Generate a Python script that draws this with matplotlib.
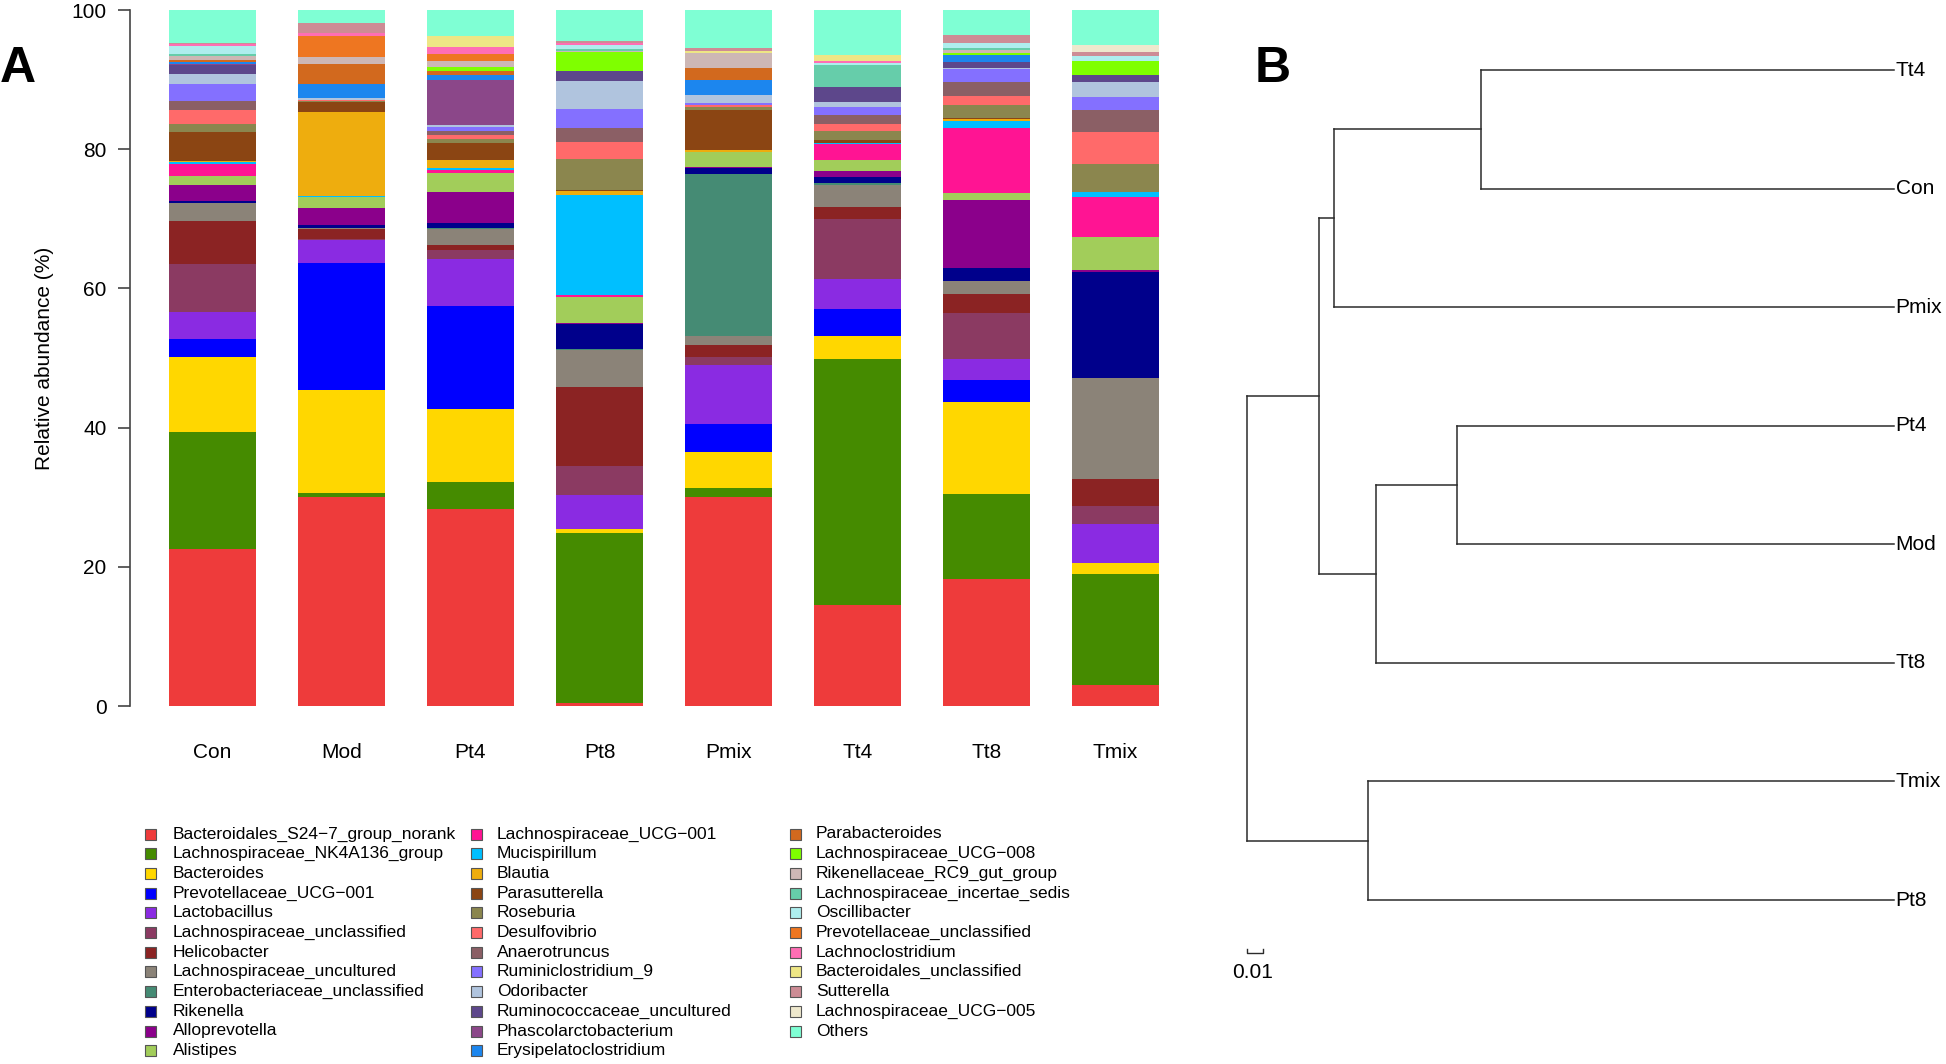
import matplotlib.pyplot as plt
from matplotlib.patches import Rectangle
import numpy as np

plt.rcParams['font.family'] = ['Liberation Sans', 'DejaVu Sans']

# ---- data -------------------------------------------------------------
groups = ['Con', 'Mod', 'Pt4', 'Pt8', 'Pmix', 'Tt4', 'Tt8', 'Tmix']

taxa = ['Bacteroidales_S24\u22127_group_norank', 'Lachnospiraceae_NK4A136_group',
        'Bacteroides', 'Prevotellaceae_UCG\u2212001', 'Lactobacillus',
        'Lachnospiraceae_unclassified', 'Helicobacter', 'Lachnospiraceae_uncultured',
        'Enterobacteriaceae_unclassified', 'Rikenella', 'Alloprevotella', 'Alistipes',
        'Lachnospiraceae_UCG\u2212001', 'Mucispirillum', 'Blautia', 'Parasutterella',
        'Roseburia', 'Desulfovibrio', 'Anaerotruncus', 'Ruminiclostridium_9',
        'Odoribacter', 'Ruminococcaceae_uncultured', 'Phascolarctobacterium',
        'Erysipelatoclostridium', 'Parabacteroides', 'Lachnospiraceae_UCG\u2212008',
        'Rikenellaceae_RC9_gut_group', 'Lachnospiraceae_incertae_sedis', 'Oscillibacter',
        'Prevotellaceae_unclassified', 'Lachnoclostridium', 'Bacteroidales_unclassified',
        'Sutterella', 'Lachnospiraceae_UCG\u2212005', 'Others']

colors = ['#EE3B3B', '#458B00', '#FFD700', '#0000FF', '#8A2BE2', '#8B3A62', '#8B2323',
          '#8B8378', '#458B74', '#00008B', '#8B008B', '#A2CD5A', '#FF1493', '#00BFFF',
          '#EEAD0E', '#8B4513', '#8B864E', '#FF6A6A', '#8B5F65', '#8470FF', '#B0C4DE',
          '#5D478B', '#8B4789', '#1C86EE', '#D2691E', '#7FFF00', '#CDB7B5', '#66CDAA',
          '#AEEEEE', '#EE7621', '#FF6EB4', '#EEE685', '#CD8C95', '#EEE8CD', '#7FFFD4']

# relative abundance (%) per group, in the order of taxa
con = [22.5, 16.8, 10.9, 2.5, 3.9, 6.9, 6.2, 2.5, 0, 0.3, 2.4, 1.2, 1.8, 0.3, 0.1, 4.1, 1.2,
       2.0, 1.3, 2.4, 1.5, 1.3, 0.1, 0.3, 0.3, 0, 0.6, 0.3, 1.1, 0, 0.3, 0, 0.1, 0, 4.8]
mod = [30.1, 0.5, 14.8, 18.2, 3.3, 0.2, 1.4, 0.2, 0, 0.4, 2.4, 1.7, 0, 0.1, 12.1, 1.4, 0.1,
       0.1, 0.1, 0, 0.3, 0, 0, 1.9, 3.0, 0, 1.0, 0, 0, 2.9, 0.5, 0, 1.5, 0, 1.8]
pt4 = [28.3, 3.9, 10.5, 14.7, 6.8, 1.3, 0.7, 2.3, 0.2, 0.7, 4.4, 2.8, 0.4, 0.3, 1.1, 2.5, 0.5,
       0.6, 0.6, 0.6, 0.3, 0, 6.4, 0.8, 0.6, 0.5, 0.9, 0, 0, 1.0, 1.0, 1.5, 0, 0, 3.8]
pt8 = [0.4, 24.5, 0.6, 0, 4.8, 4.2, 11.4, 5.3, 0.1, 3.6, 0.1, 3.8, 0.2, 14.4, 0.6, 0.1, 4.5,
       2.4, 2.1, 2.7, 4.0, 1.4, 0, 0, 0, 2.8, 0.1, 0.3, 0.6, 0, 0.2, 0.1, 0.2, 0, 4.5]
pmix = [30.1, 1.2, 5.2, 4.0, 8.5, 1.1, 1.8, 1.2, 23.3, 0.9, 0.1, 2.2, 0, 0, 0.3, 5.8, 0.4,
        0.2, 0, 0.3, 1.2, 0, 0, 2.2, 1.6, 0, 2.2, 0, 0, 0, 0, 0.3, 0.5, 0, 5.4]
tt4 = [14.5, 35.4, 3.3, 3.9, 4.3, 8.5, 1.8, 3.2, 0.2, 0.9, 0.9, 1.6, 2.2, 0.2, 0, 0.4, 1.3,
       1.0, 1.3, 1.2, 0.7, 2.1, 0, 0, 0, 0, 0, 3.2, 0.3, 0, 0.3, 0.8, 0, 0, 6.5]
tt8 = [18.3, 12.1, 13.3, 3.1, 3.1, 6.5, 2.8, 1.9, 0, 1.8, 9.8, 1.0, 9.4, 1.0, 0.3, 0.1, 1.9,
       1.2, 2.0, 1.9, 0.2, 0.9, 0, 0.9, 0, 0.3, 0.5, 0.3, 0.6, 0, 0, 0, 1.2, 0, 3.6]
tmix = [3.0, 16.0, 1.5, 0, 5.7, 2.6, 3.8, 14.5, 0, 15.3, 0.3, 4.7, 5.8, 0.7, 0, 0, 4.0,
        4.6, 3.1, 1.9, 2.2, 1.0, 0, 0, 0, 2.0, 0, 0, 0.7, 0, 0, 0, 0.6, 1.0, 5.0]

# clustering tree (panel B): tips top->bottom, merges with distance from root
tips = ['Tt4', 'Con', 'Pmix', 'Pt4', 'Mod', 'Tt8', 'Tmix', 'Pt8']
tip_depth = 0.40
merges = [('Tt4', 'Con', 0.145),
          ('n1', 'Pmix', 0.054),
          ('Pt4', 'Mod', 0.130),
          ('n3', 'Tt8', 0.080),
          ('n2', 'n4', 0.045),
          ('Tmix', 'Pt8', 0.075),
          ('n5', 'n6', 0.0)]

# ---- figure -----------------------------------------------------------
W, H = 1946, 1064
fig = plt.figure(figsize=(W / 100, H / 100), dpi=100)

# panel A: stacked bars
ax = fig.add_axes([130 / W, 1 - 706 / H, 1050 / W, 696 / H])
abund = np.array([con, mod, pt4, pt8, pmix, tt4, tt8, tmix]).T
x = np.arange(len(groups))
bottom = np.zeros(len(groups))
for name, col, row in zip(taxa, colors, abund):
    ax.bar(x, row, bottom=bottom, width=0.667, color=col, linewidth=0, label=name)
    bottom += row

ax.set_xlim(-82.5 / 129, -82.5 / 129 + 1050 / 129)
ax.set_ylim(0, 100)
for s in ['top', 'right', 'bottom']:
    ax.spines[s].set_visible(False)
ax.spines['left'].set_color('#444444')
ax.spines['left'].set_linewidth(1.2)
ax.set_yticks([0, 20, 40, 60, 80, 100])
ax.tick_params(axis='y', length=9, width=1.2, color='#444444', pad=8, labelsize=15)
ax.set_xticks(x)
ax.set_xticklabels(groups)
ax.tick_params(axis='x', length=0, pad=27, labelsize=15)
fig.text(45 / W, 1 - 358 / H, 'Relative abundance (%)', rotation=90,
         ha='center', va='center', fontsize=15)
fig.text(18 / W, 1 - 69 / H, 'A', fontsize=36, fontweight='bold', ha='center', va='center')

# legend drawn R-style, three columns
lg = fig.add_axes([0, 0, 1, 1])
lg.set_xlim(0, W)
lg.set_ylim(H, 0)
lg.axis('off')
sq_x = [150, 476, 795]
txt_x = [173, 497, 816]
for i, (name, col) in enumerate(zip(taxa, colors)):
    c, r = i // 12, i % 12
    yy = 834 + r * 19.7
    lg.add_patch(Rectangle((sq_x[c] - 5.5, yy - 5.5), 11, 11, facecolor=col,
                           edgecolor='#555555', linewidth=0.8))
    lg.text(txt_x[c], yy, name, va='center', ha='left', fontsize=12.5)

# panel B: dendrogram
dx = fig.add_axes([1246.5 / W, 1 - 900 / H, 647.5 / W, 830 / H])
dx.set_xlim(0, tip_depth)
dx.set_ylim(len(tips) - 1, 0)
dx.axis('off')
pos = {t: (tip_depth, i) for i, t in enumerate(tips)}
lc = '#2b2b2b'
for k, (a, b, d) in enumerate(merges, start=1):
    (xa, ya), (xb, yb) = pos[a], pos[b]
    dx.plot([d, d], [ya, yb], color=lc, lw=1.1, clip_on=False)
    dx.plot([d, xa], [ya, ya], color=lc, lw=1.1, clip_on=False)
    dx.plot([d, xb], [yb, yb], color=lc, lw=1.1, clip_on=False)
    pos['n%d' % k] = (d, (ya + yb) / 2)
for i, t in enumerate(tips):
    dx.text(tip_depth + 0.001, i, t, va='center', ha='left', fontsize=15, clip_on=False)

# scale bar
sb_y = 7.45
dx.plot([0, 0, 0.01, 0.01], [sb_y - 0.04, sb_y, sb_y, sb_y - 0.04], color=lc, lw=1.0,
        clip_on=False)
dx.text(0.004, 7.61, '0.01', ha='center', va='center', fontsize=15, clip_on=False)
fig.text(1273 / W, 1 - 69 / H, 'B', fontsize=36, fontweight='bold', ha='center', va='center')

fig.savefig('out.png', dpi=100)
